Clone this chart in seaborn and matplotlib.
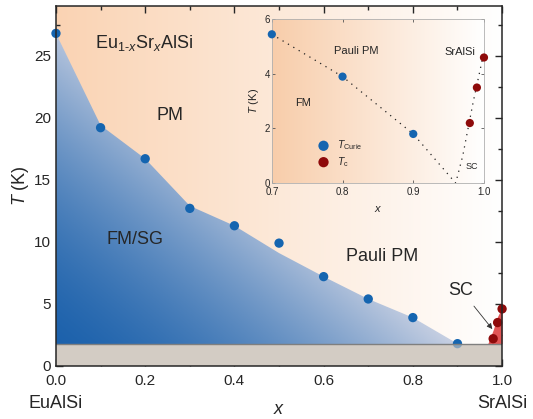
import numpy as np
import matplotlib
matplotlib.use("Agg")
import matplotlib.pyplot as plt
import seaborn as sns
import pandas as pd
from matplotlib.patches import Polygon
from matplotlib.colors import to_rgb
from matplotlib.ticker import MultipleLocator

# ---------------- data ----------------
x_curie = [0.0, 0.1, 0.2, 0.3, 0.4, 0.5, 0.6, 0.7, 0.8, 0.9]
T_curie = [26.8, 19.2, 16.7, 12.7, 11.3, 9.9, 7.2, 5.4, 3.9, 1.8]
x_sc = [0.98, 0.99, 1.0]
T_sc = [2.2, 3.5, 4.6]
# FM/SG phase boundary
x_bound = [0.0, 0.1, 0.2, 0.3, 0.4, 0.5, 0.6, 0.7, 0.8, 0.9]
T_bound = [26.8, 19.4, 16.7, 12.9, 11.3, 9.1, 7.2, 5.4, 3.9, 1.8]
# SC dome (main panel)
x_scfill = [0.968, 0.98, 0.99, 1.0]
T_scfill = [1.8, 2.9, 4.0, 4.7]
T_base = 1.8
# inset
x_in = [0.7, 0.8, 0.9]
T_in = [5.45, 3.9, 1.8]
x_line = [0.7, 0.8, 0.9, 0.94, 0.96, 0.97, 0.985, 1.0]
T_line = [5.45, 3.9, 1.8, 0.6, 0.0, 1.0, 3.0, 4.8]

# ---------------- style ----------------
sns.set_style("ticks")
plt.rcParams["font.family"] = ["Liberation Sans", "DejaVu Sans"]
plt.rcParams["mathtext.fontset"] = "custom"
plt.rcParams["mathtext.rm"] = "Liberation Sans"
plt.rcParams["mathtext.it"] = "Liberation Sans:italic"
plt.rcParams["mathtext.bf"] = "Liberation Sans:bold"

blue = "#1565b0"
red = "#8e0a0a"
band = "#d3ccc4"

fig = plt.figure(figsize=(5.33, 4.19), dpi=100)
ax = fig.add_axes([0.105, 0.1265, 0.837, 0.859])

XMAX, YMAX = 1.0, 29.0
# orange -> white background gradient
nx, ny = 300, 200
gx = np.linspace(0, 1, nx)
left = np.array(to_rgb("#fad3b3"))
white = np.ones(3)
grad = (left[None, :] * (1 - gx[:, None]) + white[None, :] * gx[:, None])
img = np.tile(grad[None, :, :], (ny, 1, 1))
ax.imshow(img, extent=[0, XMAX, 0, YMAX], origin="lower", aspect="auto", zorder=0)

# blue gradient clipped to FM/SG region
X, Y = np.meshgrid(np.linspace(0, 1, nx), np.linspace(0, YMAX, ny))
u = np.clip(X / 0.95 + Y / 28.5, 0, 1) ** 1.6
dark = np.array(to_rgb("#1a60ab"))
light = np.array(to_rgb("#c6cfe2"))
bimg = dark[None, None, :] * (1 - u[..., None]) + light[None, None, :] * u[..., None]
bim = ax.imshow(bimg, extent=[0, XMAX, 0, YMAX], origin="lower", aspect="auto", zorder=1)
poly = Polygon(list(zip(x_bound, T_bound)) + [(0.9, 0), (0, 0)], closed=True,
               transform=ax.transData, facecolor="none", edgecolor="none")
ax.add_patch(poly)
bim.set_clip_path(poly)

# SC region
ax.fill_between(x_scfill, T_base, T_scfill, color="#e25555", lw=0, zorder=2)

# gray band (opaque below points, translucent veil above)
ax.axhspan(0, T_base, color=band, lw=0, zorder=2.5)

df_c = pd.DataFrame({"x": x_curie, "T": T_curie})
df_s = pd.DataFrame({"x": x_sc, "T": T_sc})
sns.scatterplot(data=df_c, x="x", y="T", ax=ax, color=blue, s=45, edgecolor="none", zorder=3, clip_on=False)
sns.scatterplot(data=df_s, x="x", y="T", ax=ax, color=red, s=45, edgecolor="none", zorder=3, clip_on=False)

ax.axhspan(0, T_base, color=band, alpha=0.6, lw=0, zorder=4)
ax.axhline(T_base, color="#7f7f7f", lw=1.0, zorder=4.5)

ax.set_xlim(0, XMAX)
ax.set_ylim(0, YMAX)
ax.xaxis.set_minor_locator(MultipleLocator(0.1))
ax.yaxis.set_minor_locator(MultipleLocator(2.5))
ax.set_yticks([0, 5, 10, 15, 20, 25])
ax.set_xticks([0, 0.2, 0.4, 0.6, 0.8, 1.0])
ax.set_xticklabels(["0.0", "0.2", "0.4", "0.6", "0.8", "1.0"])
ax.tick_params(which="both", direction="in", top=True, right=True, labelsize=11, width=1.0)
ax.tick_params(which="major", length=5)
ax.tick_params(which="minor", length=3)
ax.tick_params(axis="x", pad=6)
for sp in ax.spines.values():
    sp.set_linewidth(1.1)
    sp.set_zorder(6)
ax.set_xlabel("$x$", fontsize=13, labelpad=9)
ax.set_ylabel("$T$ (K)", fontsize=13, labelpad=2)

ax.text(0.0, -0.105, "EuAlSi", transform=ax.transAxes, ha="center", va="center", fontsize=13)
ax.text(1.0, -0.105, "SrAlSi", transform=ax.transAxes, ha="center", va="center", fontsize=13)

ax.text(0.197, 26.0, "Eu$_{1\u2010x}$Sr$_x$AlSi", ha="center", va="center", fontsize=13, zorder=5)
ax.text(0.256, 20.2, "PM", ha="center", va="center", fontsize=13, zorder=5)
ax.text(0.177, 10.2, "FM/SG", ha="center", va="center", fontsize=13, zorder=5)
ax.text(0.73, 8.8, "Pauli PM", ha="center", va="center", fontsize=13, zorder=5)
ax.text(0.908, 6.1, "SC", ha="center", va="center", fontsize=13, zorder=5)
ax.annotate("", xy=(0.982, 2.8), xytext=(0.933, 5.0),
            arrowprops=dict(arrowstyle="-|>", color="#333333", lw=0.6, mutation_scale=8), zorder=5)

# ---------------- inset ----------------
ax2 = fig.add_axes([0.510, 0.563, 0.398, 0.391])
lo = np.array(to_rgb("#f8cdaa"))
g2 = lo[None, :] * (1 - gx[:, None]) + white[None, :] * gx[:, None]
ax2.imshow(np.tile(g2[None, :, :], (50, 1, 1)), extent=[0.7, 1.0, 0, 6], origin="lower",
           aspect="auto", zorder=0)
ax2.plot(x_line, T_line, ls=(0, (1, 4)), color="#222222", lw=0.9, zorder=2)
df_i = pd.DataFrame({"x": x_in, "T": T_in})
sns.scatterplot(data=df_i, x="x", y="T", ax=ax2, color=blue, s=35, edgecolor="none",
                zorder=3, clip_on=False, label="$T_{\\rm Curie}$")
sns.scatterplot(data=df_s, x="x", y="T", ax=ax2, color=red, s=35, edgecolor="none",
                zorder=3, clip_on=False, label="$T_{\\rm c}$")
ax2.set_xlim(0.7, 1.0)
ax2.set_ylim(0, 6)
ax2.set_xticks([0.7, 0.8, 0.9, 1.0])
ax2.set_xticklabels(["0.7", "0.8", "0.9", "1.0"])
ax2.set_yticks([0, 2, 4, 6])
ax2.tick_params(which="both", direction="in", top=True, right=True, labelsize=7,
                width=0.6, color="#555555", pad=1.5)
ax2.tick_params(axis="x", pad=3)
ax2.tick_params(which="major", length=2.5)
for sp in ax2.spines.values():
    sp.set_linewidth(0.6)
    sp.set_color("#b0b0b0")
ax2.set_xlabel("$x$", fontsize=8, labelpad=5)
ax2.set_ylabel("$T$ (K)", fontsize=8, labelpad=2)
ax2.text(0.82, 4.83, "Pauli PM", ha="center", va="center", fontsize=8)
ax2.text(0.744, 2.93, "FM", ha="center", va="center", fontsize=8)
ax2.text(0.966, 4.8, "SrAlSi", ha="center", va="center", fontsize=8)
ax2.text(0.983, 0.62, "SC", ha="center", va="center", fontsize=6.5)
leg = ax2.legend(loc="center left", bbox_to_anchor=(0.17, 0.18), frameon=False, fontsize=7.5,
                 handletextpad=0.3, labelspacing=0.25, markerscale=1.25, borderpad=0)

fig.savefig("out.png", dpi=100)
